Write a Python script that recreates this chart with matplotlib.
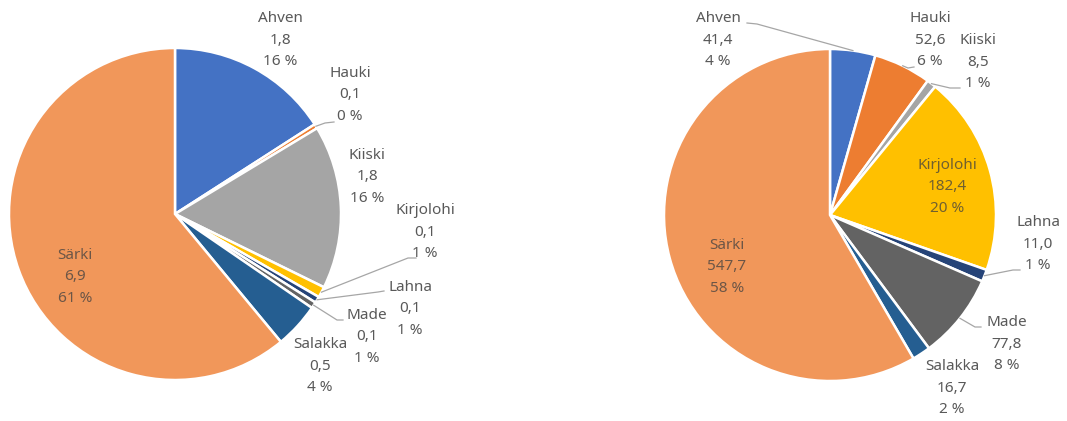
import matplotlib
matplotlib.use("Agg")
import matplotlib.pyplot as plt
import numpy as np

plt.rcParams['font.family'] = ['Noto Sans', 'DejaVu Sans']

categories = ["Ahven", "Hauki", "Kiiski", "Kirjolohi", "Lahna", "Made", "Salakka", "Särki"]
left_values = [1.8, 0.05, 1.8, 0.12, 0.07, 0.07, 0.5, 6.9]
left_pcts = [16, 0, 16, 1, 1, 1, 4, 61]
right_values = [41.4, 52.6, 8.5, 182.4, 11.0, 77.8, 16.7, 547.7]
right_pcts = [4, 6, 1, 20, 1, 8, 2, 58]
colors = ["#4472C4", "#ED7D31", "#A5A5A5", "#FFC000", "#264478", "#636363", "#255E91", "#F1975A"]

W, H = 1067, 421
R = 166
FS = 11
LS = 1.62

fig = plt.figure(figsize=(W / 100, H / 100), dpi=100)

def fmt_num(v):
    return f"{v:.1f}".replace(".", ",")

def make_pie(cx, cy, values, pcts, label_px, leaders, inside):
    ax = fig.add_axes([(cx - R) / W, (H - cy - R) / H, 2 * R / W, 2 * R / H])
    wedges, _ = ax.pie(values, colors=colors, startangle=90, counterclock=False, radius=1,
                       wedgeprops=dict(edgecolor="white", linewidth=1.8))
    ax.set_xlim(-1, 1)
    ax.set_ylim(-1, 1)
    ax.axis("off")
    toU = lambda p: ((p[0] - cx) / R, (cy - p[1]) / R)
    for i, (name, v, pct) in enumerate(zip(categories, values, pcts)):
        txt = f"{name}\n{fmt_num(v)}\n{pct} %"
        ux, uy = toU(label_px[i])
        if i in inside:
            ax.text(ux, uy, txt, ha="center", va="center", fontsize=FS, color="#404040",
                    alpha=0.75, linespacing=LS, clip_on=False)
        else:
            ax.text(ux, uy, txt, ha="center", va="center", fontsize=FS, color="#595959",
                    linespacing=LS, clip_on=False)
        if i in leaders:
            w = wedges[i]
            ang = np.deg2rad((w.theta1 + w.theta2) / 2)
            wp = (np.cos(ang), np.sin(ang))
            pts = [toU(p) for p in leaders[i]] + [wp]
            xs, ys = zip(*pts)
            ax.plot(xs, ys, color="#A6A6A6", lw=0.9, clip_on=False)

# left pie
left_labels = [(280, 40), (350, 95), (367, 177), (425, 232), (410, 309), (367, 337), (320, 366), (75, 277)]
left_leaders = {
    1: [(334, 122), (325, 123)],
    3: [(416, 258), (408, 258)],
    4: [(384, 291), (378, 292)],
    5: [(343, 320), (337, 320)],
}
make_pie(175, 214, left_values, left_pcts, left_labels, left_leaders, inside={7})

# right pie
right_labels = [(718, 40), (930, 40), (978, 62), (947, 187), (1038, 244), (1007, 344), (952, 388), (727, 267)]
right_leaders = {
    0: [(747, 23), (757, 24)],
    1: [(914, 67), (908, 68)],
    2: [(960, 88), (950, 88)],
    4: [(1020, 270), (1013, 270)],
    5: [(981, 327), (975, 327)],
}
make_pie(830, 215, right_values, right_pcts, right_labels, right_leaders, inside={3, 7})

fig.savefig("out.png", dpi=100, facecolor="white")
